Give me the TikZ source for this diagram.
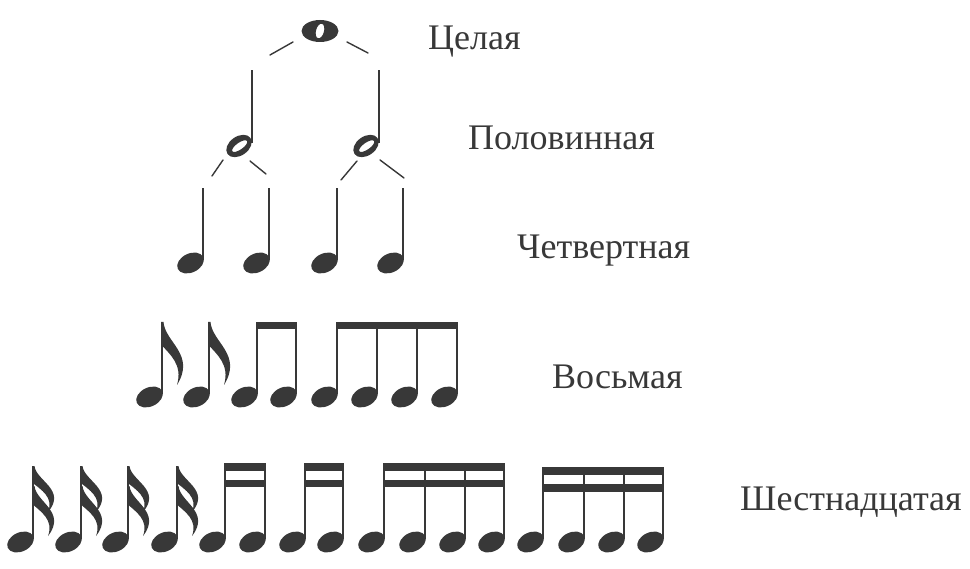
\documentclass[tikz,border=0pt]{standalone}
\usepackage{fontspec}
\setmainfont{Liberation Serif}
\usetikzlibrary{calc}

\definecolor{ink}{HTML}{383838}
\tikzset{
  notestem/.style={ink, line width=2.2pt},
  tie/.style={ink, line width=1.4pt, line cap=round},
  durname/.style={anchor=base west, inner sep=0pt, text=ink, font=\fontsize{36}{36}\selectfont},
}
% filled head + stem: stem x, head y, stem top
\newcommand\blacknote[3]{
  \fill[ink, rotate around={25:(#1-12.5,#2)}] (#1-12.5,#2) ellipse (14pt and 9.5pt);
  \draw[notestem] (#1,#2-3) -- (#1,#3);
}
% flag: stem x, top y, length
\newcommand\noteflag[3]{
  \begin{scope}[shift={(#1,#2)}, yscale=#3/62]
    \fill[ink] (-1,0) -- (1.5,0) .. controls (3,20) and (34,32) .. (15,62)
      .. controls (21,42) and (8,32) .. (-1,22) -- cycle;
  \end{scope}
}

\begin{document}
\begin{tikzpicture}[x=1pt, y=-1pt]
\useasboundingbox (0,0) rectangle (970,569);

% whole note
\fill[ink, even odd rule] (320,31) ellipse (18.5pt and 11pt)
  [rotate around={-15:(320,31)}] (320,31) ellipse (4pt and 7.5pt);
\coordinate (w1) at (270,55); \coordinate (w2) at (293,42);
\coordinate (w3) at (347,42); \coordinate (w4) at (368,53);
\draw[tie] (w1) -- (w2);
\draw[tie] (w3) -- (w4);

% half notes
\foreach \s in {252,379} {
 \fill[ink, even odd rule, rotate around={35:(\s-13,146)}] (\s-13,146) ellipse (14pt and 9.5pt)
   (\s-12.5,146.5) ellipse (9pt and 3.4pt);
 \draw[notestem] (\s,143) -- (\s,70);
}
\coordinate (h1) at (223,160); \coordinate (h2) at (212,176);
\coordinate (h3) at (250,161); \coordinate (h4) at (266,174);
\coordinate (h5) at (357,161); \coordinate (h6) at (341,180);
\coordinate (h7) at (380,160); \coordinate (h8) at (404,178);
\draw[tie] (h1) -- (h2);
\draw[tie] (h3) -- (h4);
\draw[tie] (h5) -- (h6);
\draw[tie] (h7) -- (h8);

% quarter notes
\foreach \s in {203,269,337,403}
 \blacknote{\s}{263}{188};

% eighth notes
\foreach \s in {162,209} {
 \blacknote{\s}{397}{322};
 \noteflag{\s}{322}{63}
}
\foreach \s in {257,296,337,377,417,457}
 \blacknote{\s}{397}{322};
\fill[ink] (257-1.1,322) rectangle (296+1.1,329);
\fill[ink] (337-1.1,322) rectangle (457+1.1,329);

% sixteenth notes
\foreach \s in {33,81,128,177} {
 \blacknote{\s}{542}{466};
 \noteflag{\s}{466}{46}
 \noteflag{\s}{486}{50}
}
\foreach \s in {225,265,305,343,384,425,465,504}
 \blacknote{\s}{542}{463};
\foreach \s in {543,584,624,663}
 \blacknote{\s}{542}{467};
\foreach \a/\b in {225/265,305/343,384/504} {
 \fill[ink] (\a-1.1,463) rectangle (\b+1.1,471);
 \fill[ink] (\a-1.1,480) rectangle (\b+1.1,487);
}
\fill[ink] (543-1.1,467) rectangle (663+1.1,475);
\fill[ink] (543-1.1,484) rectangle (663+1.1,492);

% names
\node[durname] (whole) at (428,50) {Целая};
\node[durname] (half) at (468,150) {Половинная};
\node[durname] (quarter) at (517,259) {Четвертная};
\node[durname] (eighth) at (552,389) {Восьмая};
\node[durname] (sixteenth) at (740,510) {Шестнадцатая};
\end{tikzpicture}
\end{document}
